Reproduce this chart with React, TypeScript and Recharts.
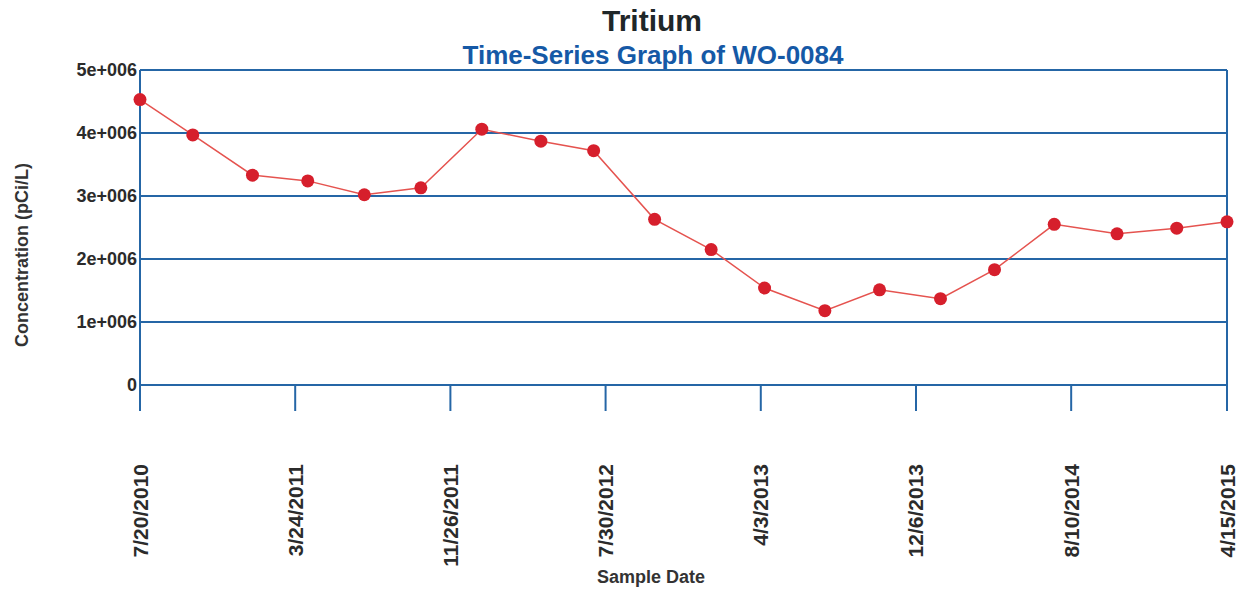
import React from "react";
import {
  LineChart,
  Line,
  XAxis,
  YAxis,
  CartesianGrid,
  ReferenceLine,
} from "recharts";

const FONT = "'Liberation Sans', Arial, Helvetica, sans-serif";
const BLUE = "#2566a6";

const sampleDates = [
  "7/20/2010", "10/12/2010", "1/15/2011", "4/13/2011", "7/12/2011",
  "10/10/2011", "1/15/2012", "4/18/2012", "7/11/2012", "10/16/2012",
  "1/14/2013", "4/9/2013", "7/14/2013", "10/9/2013", "1/14/2014",
  "4/10/2014", "7/14/2014", "10/22/2014", "1/25/2015", "4/15/2015",
];

const tritium = [
  4530000, 3970000, 3330000, 3240000, 3020000,
  3130000, 4060000, 3870000, 3720000, 2630000,
  2150000, 1540000, 1180000, 1510000, 1370000,
  1830000, 2550000, 2400000, 2490000, 2590000,
];

const dateTicks = [
  "7/20/2010", "3/24/2011", "11/26/2011", "7/30/2012",
  "4/3/2013", "12/6/2013", "8/10/2014", "4/15/2015",
];

const yTicks = [0, 1000000, 2000000, 3000000, 4000000, 5000000];
const yTickLabels = ["0", "1e+006", "2e+006", "3e+006", "4e+006", "5e+006"];

const toTime = (s: string) => {
  const [m, d, y] = s.split("/").map(Number);
  return new Date(y, m - 1, d).getTime();
};

const data = sampleDates.map((d, i) => ({ t: toTime(d), value: tritium[i] }));
const tickTimes = dateTicks.map(toTime);

function DateTick(props: any) {
  const { x, y, payload } = props;
  const idx = tickTimes.indexOf(payload.value);
  const label = idx >= 0 ? dateTicks[idx] : "";
  return (
    <text
      transform={`translate(${x + 7.5}, ${y + 53}) rotate(-90)`}
      textAnchor="end"
      fontSize={21}
      fontWeight={700}
      fill="#2b2b2b"
      fontFamily={FONT}
    >
      {label}
    </text>
  );
}

export default function App() {
  return (
    <div
      style={{
        position: "absolute",
        left: 0,
        top: 0,
        width: 1247,
        height: 599,
        background: "#fff",
        fontFamily: FONT,
      }}
    >
      <div
        style={{
          position: "absolute",
          left: 0,
          width: 1304,
          top: 4,
          textAlign: "center",
          fontSize: 30,
          fontWeight: 700,
          color: "#1f2729",
          lineHeight: "34px",
        }}
      >
        Tritium
      </div>
      <div
        style={{
          position: "absolute",
          left: 0,
          width: 1306,
          top: 40,
          textAlign: "center",
          fontSize: 26,
          fontWeight: 700,
          color: "#1559a6",
          lineHeight: "30px",
        }}
      >
        Time-Series Graph of WO-0084
      </div>
      <div
        style={{
          position: "absolute",
          left: 22,
          top: 255,
          transform: "translate(-50%, -50%) rotate(-90deg)",
          whiteSpace: "nowrap",
          fontSize: 18,
          fontWeight: 700,
          color: "#333",
        }}
      >
        Concentration (pCi/L)
      </div>
      <div
        style={{
          position: "absolute",
          left: 0,
          width: 1302,
          top: 567,
          textAlign: "center",
          fontSize: 18,
          fontWeight: 700,
          color: "#333",
        }}
      >
        Sample Date
      </div>
      <div style={{ position: "absolute", left: 0, top: 0 }}>
        <LineChart
          width={1247}
          height={599}
          data={data}
          margin={{ top: 70, right: 20, bottom: 0, left: 0 }}
        >
          <CartesianGrid
            vertical={false}
            stroke={BLUE}
            strokeWidth={2}
            horizontalValues={yTicks}
          />
          <XAxis
            dataKey="t"
            type="number"
            scale="time"
            domain={[tickTimes[0], tickTimes[tickTimes.length - 1]]}
            ticks={tickTimes}
            interval={0}
            height={214}
            tickSize={26}
            tickMargin={0}
            axisLine={{ stroke: BLUE, strokeWidth: 2 }}
            tickLine={{ stroke: BLUE, strokeWidth: 2 }}
            tick={<DateTick />}
          />
          <YAxis
            type="number"
            domain={[0, 5000000]}
            ticks={yTicks}
            interval={0}
            width={140}
            tickSize={0}
            tickMargin={3}
            axisLine={{ stroke: BLUE, strokeWidth: 2 }}
            tickLine={false}
            tickFormatter={(v: number) => yTickLabels[yTicks.indexOf(v)] ?? ""}
            tick={{
              fill: "#2b2b2b",
              fontSize: 18,
              fontWeight: 700,
              fontFamily: FONT,
            }}
          />
          <ReferenceLine
            x={tickTimes[tickTimes.length - 1]}
            stroke={BLUE}
            strokeWidth={2}
          />
          <Line
            type="linear"
            dataKey="value"
            stroke="#e5534f"
            strokeWidth={1.5}
            dot={{ r: 6.5, fill: "#d61f2c", stroke: "#d61f2c", strokeWidth: 0 }}
            isAnimationActive={false}
          />
        </LineChart>
      </div>
    </div>
  );
}
